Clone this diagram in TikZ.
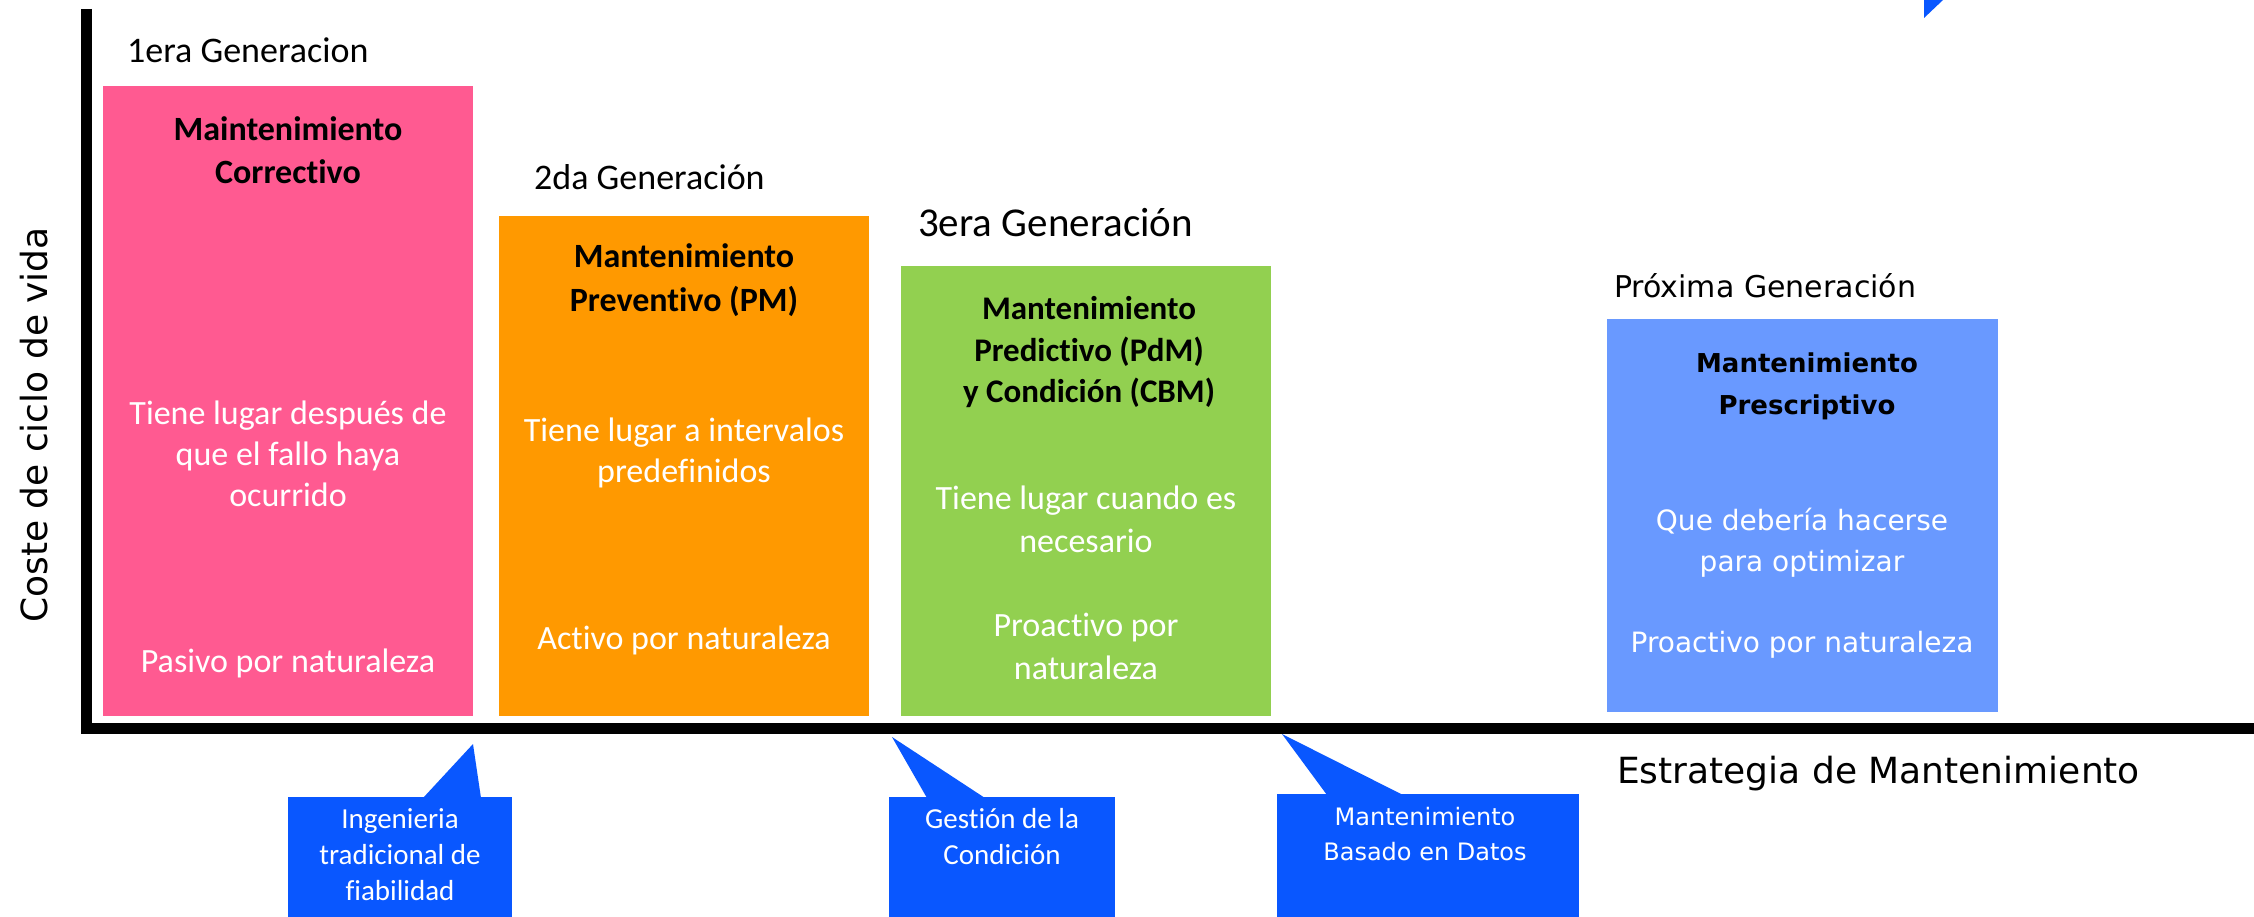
\documentclass[tikz,border=0pt]{standalone}
\usepackage{fontspec}
\setmainfont[Ligatures=NoCommon]{Carlito}
\newfontfamily\verd{DejaVu Sans}
\definecolor{pinkc}{HTML}{FF5A91}
\definecolor{orangec}{HTML}{FF9900}
\definecolor{greenc}{HTML}{92D050}
\definecolor{proxc}{HTML}{6999FF}
\definecolor{callc}{HTML}{0957FF}
\pgfdeclarelayer{bg}
\pgfsetlayers{bg,main}
\newcommand\boxshadow[1]{%
  \foreach \k in {1,...,10}{%
    \fill[black,opacity=0.06] ([shift={(\k,\k)}]#1.north west) rectangle ([shift={(\k,\k)}]#1.south east);}}
\begin{document}
\begin{tikzpicture}[x=1pt,y=-1pt,
  gbox/.style={rectangle,anchor=north west,inner sep=0pt,outer sep=0pt},
  cbox/.style={gbox,fill=callc,minimum height=140pt},
  gen/.style={anchor=base west,inner sep=0pt,font=\fontsize{36}{43}\selectfont},
  btitle/.style={inner sep=0pt,align=center,font=\fontsize{34}{43}\selectfont\bfseries},
  wtext/.style={inner sep=0pt,align=center,text=white,font=\fontsize{34}{41}\selectfont},
  ctext/.style={inner sep=0pt,align=center,text=white,font=\fontsize{29}{36}\selectfont},
  axis/.style={line width=11pt,line join=miter}]
\useasboundingbox (0,0) rectangle (2254,917);
\clip (0,0) rectangle (2254,917);
\fill[white] (0,0) rectangle (2254,917);

% axes
\coordinate (ytop) at (86.5,9);
\coordinate (O) at (86.5,728.5);
\coordinate (xend) at (2260,728.5);
\draw[axis] (ytop) -- (O) -- (xend);

% boxes
\node[gbox,fill=pinkc,minimum width=370pt,minimum height=630pt] (b1) at (103,86) {};
\node[gbox,fill=orangec,minimum width=370pt,minimum height=500pt] (b2) at (499,216) {};
\node[gbox,fill=greenc,minimum width=370pt,minimum height=450pt] (b3) at (901,266) {};
\node[gbox,fill=proxc,minimum width=391pt,minimum height=393pt] (b4) at (1607,319) {};
\begin{pgfonlayer}{bg}
\boxshadow{b1}\boxshadow{b2}\boxshadow{b3}\boxshadow{b4}
\end{pgfonlayer}

% generation labels
\node[gen] (g1) at (127,63) {1era Generacion};
\node[gen] (g2) at (534,190) {2da Generación};
\node[gen,font=\fontsize{41}{48}\selectfont] (g3) at (918,237) {3era Generación};
\node[gen,font=\fontsize{30}{36}\selectfont\verd] (g4) at (1614,298) {Próxima Generación};

% box 1
\node[btitle] (b1t) at (288,150) {Maintenimiento\\Correctivo};
\node[wtext] (b1a) at (288,454) {Tiene lugar después de\\que el fallo haya\\ocurrido};
\node[wtext] (b1b) at (288,663) {Pasivo por naturaleza};
% box 2
\node[btitle,font=\fontsize{34}{44}\selectfont\bfseries] (b2t) at (684,280) {Mantenimiento\\Preventivo (PM)};
\node[wtext,font=\fontsize{34}{41}\selectfont] (b2a) at (684,453) {Tiene lugar a intervalos\\predefinidos};
\node[wtext] (b2b) at (684,640) {Activo por naturaleza};
% box 3
\node[btitle,font=\fontsize{33}{41.5}\selectfont\bfseries] (b3t) at (1089,352.5) {Mantenimiento\\Predictivo (PdM)\\y Condición (CBM)};
\node[wtext,font=\fontsize{34}{43}\selectfont] (b3a) at (1086,519.5) {Tiene lugar cuando es\\necesario};
\node[wtext,font=\fontsize{34}{43}\selectfont] (b3b) at (1086,646.5) {Proactivo por\\naturaleza};
% box 4
\node[btitle,font=\fontsize{26}{42}\selectfont\verd\bfseries] (b4t) at (1807,386) {Mantenimiento\\Prescriptivo};
\node[wtext,font=\fontsize{28}{41}\selectfont\verd] (b4a) at (1802,543) {Que debería hacerse\\para optimizar};
\node[wtext,font=\fontsize{28}{41}\selectfont\verd] (b4b) at (1802,645) {Proactivo por naturaleza};

% axis labels
\node[rotate=90,anchor=base,inner sep=0pt,font=\fontsize{36}{43}\selectfont\verd] (ylab) at (47,425) {Coste de ciclo de vida};
\node[anchor=base west,inner sep=0pt,font=\fontsize{36}{43}\selectfont\verd] (xlab) at (1617,783) {Estrategia de Mantenimiento};

% callouts
\node[cbox,minimum width=224pt] (c1) at (288,797) {};
\coordinate (t1) at (473,744);
\fill[callc] (t1) -- ([shift={(135,1)}]c1.north west) -- ([shift={(193,1)}]c1.north west) -- cycle;
\node[ctext] (c1t) at (400,855) {Ingenieria\\tradicional de\\fiabilidad};

\node[cbox,minimum width=226pt] (c2) at (889,797) {};
\coordinate (t2) at (892,737);
\fill[callc] (t2) -- ([shift={(38,1)}]c2.north west) -- ([shift={(96,1)}]c2.north west) -- cycle;
\node[ctext] (c2t) at (1002,836.5) {Gestión de la\\Condición};

\node[cbox,minimum width=302pt] (c3) at (1277,794) {};
\coordinate (t3) at (1282,734);
\fill[callc] (t3) -- ([shift={(50,1)}]c3.north west) -- ([shift={(126,1)}]c3.north west) -- cycle;
\node[ctext,font=\fontsize{24}{35}\selectfont\verd] (c3t) at (1425,834.5) {Mantenimiento\\Basado en Datos};

% partial callout pointer at the top edge
\coordinate (p1) at (1924,0);
\coordinate (p2) at (1943,0);
\coordinate (p3) at (1924,18);
\fill[callc] (p1) -- (p2) -- (p3) -- cycle;
\end{tikzpicture}
\end{document}
